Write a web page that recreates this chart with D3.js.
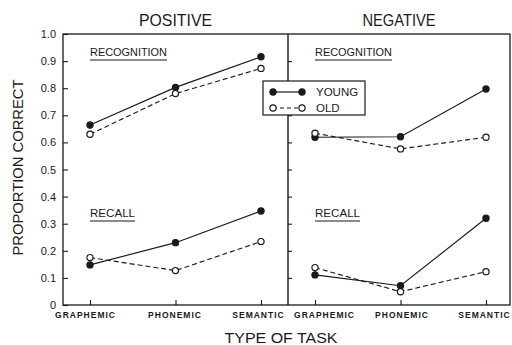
<!DOCTYPE html>
<html>
<head>
<meta charset="utf-8">
<script src="https://cdn.jsdelivr.net/npm/d3@7"></script>
<style>
  html, body { margin: 0; padding: 0; background: #fff; }
  svg { display: block; font-family: "Liberation Sans", Arial, sans-serif; }
</style>
</head>
<body>
<svg id="chart" width="512" height="345"></svg>
<script>
// Task types along the x axis of each panel
const categories = ["GRAPHEMIC", "PHONEMIC", "SEMANTIC"];
// Proportion-correct tick values
const yTickValues = [0, 0.1, 0.2, 0.3, 0.4, 0.5, 0.6, 0.7, 0.8, 0.9, 1.0];
const panelTitles = ["POSITIVE", "NEGATIVE"];
const groupLabels = ["RECOGNITION", "RECALL"];
const legendLabels = ["YOUNG", "OLD"];

// Positive condition
const posRecognitionYoung = [0.664, 0.803, 0.916];
const posRecognitionOld   = [0.630, 0.780, 0.873];
const posRecallYoung      = [0.148, 0.230, 0.347];
const posRecallOld        = [0.175, 0.127, 0.234];
// Negative condition
const negRecognitionYoung = [0.619, 0.621, 0.797];
const negRecognitionOld   = [0.634, 0.576, 0.619];
const negRecallYoung      = [0.111, 0.071, 0.320];
const negRecallOld        = [0.138, 0.049, 0.123];

const ink = "#1a1a1a";
const svg = d3.select("#chart");

const plotTop = 34, plotBottom = 305, plotLeft = 63, plotMid = 288, plotRight = 510;
const y = d3.scaleLinear().domain([0, 1]).range([plotBottom, plotTop]);

const panels = [
  { title: panelTitles[0], x0: plotLeft, x1: plotMid,
    series: [
      { values: posRecognitionYoung, group: "young" },
      { values: posRecognitionOld,   group: "old" },
      { values: posRecallYoung,      group: "young" },
      { values: posRecallOld,        group: "old" }
    ] },
  { title: panelTitles[1], x0: plotMid, x1: plotRight,
    series: [
      { values: negRecognitionYoung, group: "young" },
      { values: negRecognitionOld,   group: "old" },
      { values: negRecallYoung,      group: "young" },
      { values: negRecallOld,        group: "old" }
    ] }
];

// Left y axis with inward ticks
const yAxis = svg.append("g")
  .attr("transform", `translate(${plotLeft},0)`)
  .call(d3.axisLeft(y).tickValues(yTickValues)
    .tickFormat(d => d === 0 ? "0" : d3.format(".1f")(d))
    .tickSize(-5).tickSizeOuter(0).tickPadding(7));
yAxis.select(".domain").remove();
yAxis.selectAll("line").attr("stroke", ink).attr("stroke-width", 1.1);
yAxis.selectAll("text").attr("font-size", 11).attr("fill", ink)
  .attr("font-family", "Liberation Sans, Arial, sans-serif");

// Divider ticks facing the negative panel
const divAxis = svg.append("g")
  .attr("transform", `translate(${plotMid},0)`)
  .call(d3.axisLeft(y).tickValues(yTickValues.filter(v => v > 0 && v < 1))
    .tickFormat("").tickSize(-4).tickSizeOuter(0));
divAxis.select(".domain").remove();
divAxis.selectAll("line").attr("stroke", ink).attr("stroke-width", 1.1);

// Frame and divider
const frame = svg.append("g").attr("stroke", ink).attr("fill", "none");
frame.append("rect").attr("x", plotLeft).attr("y", plotTop)
  .attr("width", plotRight - plotLeft).attr("height", plotBottom - plotTop).attr("stroke-width", 1.3);
frame.append("line").attr("x1", plotMid).attr("x2", plotMid).attr("y1", plotTop).attr("y2", plotBottom)
  .attr("stroke-width", 1.4);

const labelOffsets = [[-5, -1, -3], [9, 1, -2]];

panels.forEach((p, pi) => {
  const x = d3.scalePoint().domain(categories).range([p.x0 + 27, p.x0 + 198]);

  const xAxis = svg.append("g")
    .attr("transform", `translate(0,${plotBottom})`)
    .call(d3.axisBottom(x).tickSize(-5).tickSizeOuter(0).tickPadding(7));
  xAxis.select(".domain").remove();
  xAxis.selectAll("line").attr("stroke", ink).attr("stroke-width", 1.1);
  xAxis.selectAll("text")
    .attr("font-size", 8.5).attr("font-weight", "bold").attr("fill", ink)
    .attr("letter-spacing", 1)
    .attr("font-family", "Liberation Sans, Arial, sans-serif")
    .attr("dx", (d, i) => labelOffsets[pi][i]);

  // Panel heading
  svg.append("text")
    .attr("x", (p.x0 + p.x1) / 2).attr("y", 26)
    .attr("text-anchor", "middle").attr("font-size", 17).attr("fill", ink)
    .attr("textLength", 73).attr("lengthAdjust", "spacingAndGlyphs")
    .text(p.title);

  // Group labels with underlines
  const gx = p.x0 + 27;
  [[groupLabels[0], 55.5, 60, 77], [groupLabels[1], 217.3, 221, 45]].forEach(([t, by, uy, w]) => {
    svg.append("text").attr("x", gx).attr("y", by)
      .attr("font-size", 10.5).attr("fill", ink)
      .attr("textLength", w).attr("lengthAdjust", "spacingAndGlyphs")
      .text(t);
    svg.append("line").attr("x1", gx).attr("x2", gx + w)
      .attr("y1", uy).attr("y2", uy).attr("stroke", ink).attr("stroke-width", 1.2);
  });

  const line = d3.line().x((d, i) => x(categories[i])).y(d => y(d));
  p.series.forEach(s => {
    const g = svg.append("g");
    g.append("path").datum(s.values).attr("d", line)
      .attr("fill", "none").attr("stroke", ink).attr("stroke-width", 1.15)
      .attr("stroke-dasharray", s.group === "old" ? "5,3" : null);
    g.selectAll("circle").data(s.values).join("circle")
      .attr("cx", (d, i) => x(categories[i])).attr("cy", d => y(d))
      .attr("r", 3.1)
      .attr("fill", s.group === "young" ? ink : "#fff")
      .attr("stroke", ink).attr("stroke-width", 1.2);
  });
});

// Legend
const lg = svg.append("g");
lg.append("rect").attr("x", 263).attr("y", 81).attr("width", 102).attr("height", 34)
  .attr("fill", "#fff").attr("stroke", ink).attr("stroke-width", 1.2);
[["young", 92], ["old", 108]].forEach(([grp, ly], i) => {
  lg.append("line").attr("x1", 273).attr("x2", 302).attr("y1", ly).attr("y2", ly)
    .attr("stroke", ink).attr("stroke-width", 1.2)
    .attr("stroke-dasharray", grp === "old" ? "4,3" : null);
  [273, 302].forEach(cx => lg.append("circle").attr("cx", cx).attr("cy", ly).attr("r", 3.1)
    .attr("fill", grp === "young" ? ink : "#fff").attr("stroke", ink).attr("stroke-width", 1.2));
  lg.append("text").attr("x", 316).attr("y", ly + 4).attr("font-size", 11.5).attr("fill", ink)
    .text(legendLabels[i]);
});

// Axis titles
svg.append("text")
  .attr("transform", `translate(23,${(plotTop + plotBottom) / 2 - 2}) rotate(-90)`)
  .attr("text-anchor", "middle").attr("font-size", 15).attr("fill", ink)
  .attr("textLength", 176).attr("lengthAdjust", "spacingAndGlyphs")
  .text("PROPORTION CORRECT");
svg.append("text")
  .attr("x", 281).attr("y", 343)
  .attr("text-anchor", "middle").attr("font-size", 15).attr("fill", ink)
  .attr("textLength", 113).attr("lengthAdjust", "spacingAndGlyphs")
  .text("TYPE OF TASK");
</script>
</body>
</html>
